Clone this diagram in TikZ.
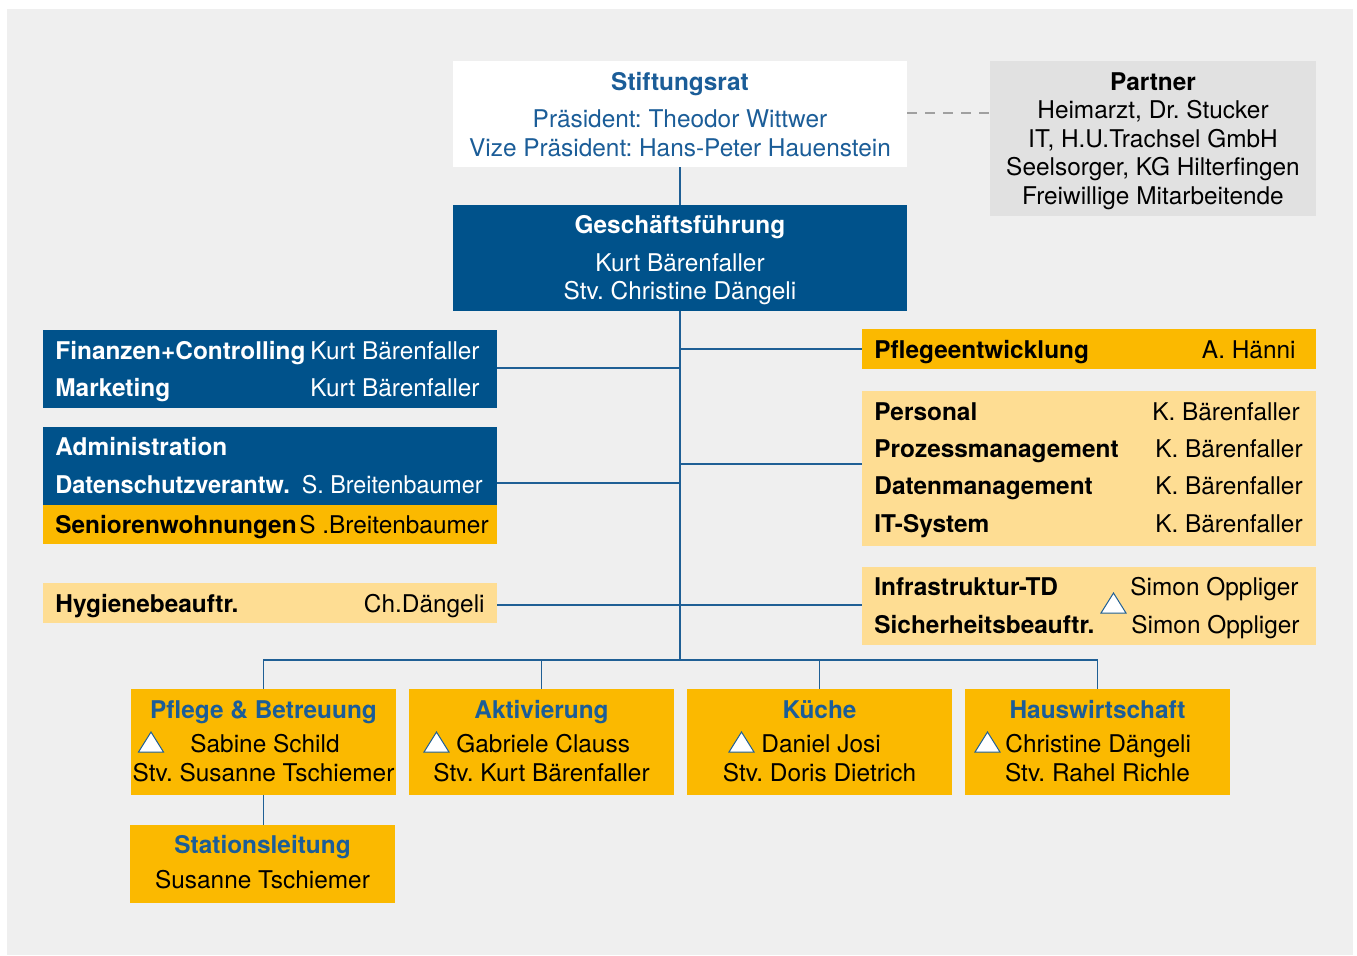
\documentclass[tikz,border=0pt]{standalone}
\usepackage{fontspec}
\setmainfont{TeX Gyre Heros}
\AtBeginDocument{\frenchspacing}
\definecolor{bgc}{HTML}{EFEFEF}
\definecolor{partnerc}{HTML}{E1E1E1}
\definecolor{darkblue}{HTML}{00528B}
\definecolor{textblue}{HTML}{1B5D98}
\definecolor{yel}{HTML}{FBB900}
\definecolor{lightyel}{HTML}{FEDD93}
\definecolor{linec}{HTML}{1F5F95}
\definecolor{dashc}{HTML}{A0A0A0}
\begin{document}
\begin{tikzpicture}[x=0.5pt,y=-0.5pt,
  box/.style={inner sep=0pt, outer sep=0pt, anchor=north west, draw=none},
  tw/.style={inner sep=0pt, anchor=base west, font=\fontsize{12.2}{14.5}\selectfont\frenchspacing},
  te/.style={inner sep=0pt, anchor=base east, font=\fontsize{12.2}{14.5}\selectfont\frenchspacing},
  tc/.style={inner sep=0pt, anchor=base, font=\fontsize{12.2}{14.5}\selectfont\frenchspacing},
  bf/.append style={font=\fontsize{12.2}{14.5}\selectfont\bfseries\frenchspacing},
  conn/.style={draw=linec, line width=0.65pt},
  dashconn/.style={draw=dashc, line width=0.9pt, dash pattern=on 5pt off 4pt},
  warn/.pic={\draw[draw=linec, fill=white, line width=0.5pt, line join=miter] (-12.5,10) -- (12.5,10) -- (0,-10) -- cycle;}
]
\useasboundingbox (0,0) rectangle (1357,955);
\fill[bgc] (7,9) rectangle (1353,955);

% boxes
\node[box, fill=white, minimum width=227pt, minimum height=53pt] (stift) at (453,61) {};
\node[box, fill=partnerc, minimum width=163pt, minimum height=77.5pt] (partner) at (990,61) {};
\node[box, fill=darkblue, minimum width=227pt, minimum height=53pt] (gf) at (453,205) {};
\node[box, fill=darkblue, minimum width=227pt, minimum height=39pt] (fin) at (43,330) {};
\node[box, fill=darkblue, minimum width=227pt, minimum height=39pt] (admin) at (43,427) {};
\node[box, fill=yel, minimum width=227pt, minimum height=19.5pt] (senior) at (43,505) {};
\node[box, fill=lightyel, minimum width=227pt, minimum height=20pt] (hyg) at (43,583) {};
\node[box, fill=yel, minimum width=227pt, minimum height=20pt] (pent) at (862,329) {};
\node[box, fill=lightyel, minimum width=227pt, minimum height=77.5pt] (pers) at (862,391) {};
\node[box, fill=lightyel, minimum width=227pt, minimum height=39pt] (infra) at (862,567) {};
\node[box, fill=yel, minimum width=132.5pt, minimum height=53pt] (pb) at (131,689) {};
\node[box, fill=yel, minimum width=132.5pt, minimum height=53pt] (akt) at (409,689) {};
\node[box, fill=yel, minimum width=132.5pt, minimum height=53pt] (kue) at (687,689) {};
\node[box, fill=yel, minimum width=132.5pt, minimum height=53pt] (hw) at (965,689) {};
\node[box, fill=yel, minimum width=132.5pt, minimum height=39pt] (stat) at (130,825) {};

% connectors
\coordinate (tb) at (680,660);
\coordinate (j1) at (680,368);
\coordinate (j2) at (680,349);
\coordinate (j3) at (680,464);
\coordinate (j4) at (680,483);
\draw[conn] (stift.south) -- (gf.north);
\draw[conn] (gf.south) -- (tb);
\draw[conn] (j1) -- (fin.east |- j1);
\draw[conn] (j2) -- (pent.west |- j2);
\draw[conn] (j3) -- (pers.west |- j3);
\draw[conn] (j4) -- (admin.east |- j4);
\draw[conn] (hyg.east |- 0,605) -- (infra.west |- 0,605);
\draw[conn] (pb.north) |- (tb) -| (hw.north);
\draw[conn] (akt.north) -- (akt.north |- tb);
\draw[conn] (kue.north) -- (kue.north |- tb);
\draw[conn] (pb.south) -- (pb.south |- stat.north);
\draw[dashconn] (stift.east |- 0,113) -- (partner.west |- 0,113);

% Stiftungsrat
\node[tc, bf, text=textblue] (s1) at (680,90) {Stiftungsrat};
\node[tc, text=textblue] (s2) at (680,127) {Präsident: Theodor Wittwer};
\node[tc, text=textblue] (s3) at (680,156) {Vize Präsident: Hans-Peter Hauenstein};

% Partner
\node[tc, bf] (p1) at (1153,90) {Partner};
\node[tc] (p2) at (1153,118) {Heimarzt, Dr. Stucker};
\node[tc] (p3) at (1153,147) {IT, H.U.Trachsel GmbH};
\node[tc] (p4) at (1153,175) {Seelsorger, KG Hilterfingen};
\node[tc] (p5) at (1153,204) {Freiwillige Mitarbeitende};

% Geschaeftsfuehrung
\node[tc, bf, text=white] (g1) at (680,233) {Geschäftsführung};
\node[tc, text=white] (g2) at (680,271) {Kurt Bärenfaller};
\node[tc, text=white] (g3) at (680,299) {Stv. Christine Dängeli};

% left column
\node[tw, bf, text=white] (f1) at (55,359) {Finanzen+Controlling};
\node[te, text=white] (f2) at (480,359) {Kurt Bärenfaller};
\node[tw, bf, text=white] (f3) at (55,396) {Marketing};
\node[te, text=white] (f4) at (480,396) {Kurt Bärenfaller};
\node[tw, bf, text=white] (a1) at (55,455) {Administration};
\node[tw, bf, text=white] (a2) at (55,493) {\scalebox{0.965}[1]{Datenschutzverantw.}};
\node[te, text=white] (a3) at (483,493) {\scalebox{0.955}[1]{S. Breitenbaumer}};
\node[tw, bf] (a4) at (55,533) {Seniorenwohnungen};
\node[te] (a5) at (489,533) {S .Breitenbaumer};
\node[tw, bf] (h1) at (55,612) {Hygienebeauftr.};
\node[te] (h2) at (485,612) {Ch.Dängeli};

% right column
\node[tw, bf] (r1) at (874,358) {Pflegeentwicklung};
\node[te] (r2) at (1296,358) {A. Hänni};
\node[tw, bf] (r3) at (874,420) {Personal};
\node[te] (r4) at (1300,420) {K. Bärenfaller};
\node[tw, bf] (r5) at (874,457) {Prozessmanagement};
\node[te] (r6) at (1303,457) {K. Bärenfaller};
\node[tw, bf] (r7) at (874,494) {Datenmanagement};
\node[te] (r8) at (1303,494) {K. Bärenfaller};
\node[tw, bf] (r9) at (874,532) {IT-System};
\node[te] (r10) at (1303,532) {K. Bärenfaller};
\node[tw, bf] (i1) at (874,595) {Infrastruktur-TD};
\node[te] (i2) at (1299,595) {Simon Oppliger};
\node[tw, bf] (i3) at (874,633) {Sicherheitsbeauftr.};
\node[te] (i4) at (1300,633) {Simon Oppliger};
\pic at (1113.5,603) {warn};

% bottom row
\node[tc, bf, text=textblue] (b1) at (263.5,718) {Pflege \& Betreuung};
\pic at (151,742) {warn};
\node[tw] (b2) at (190,752) {Sabine Schild};
\node[tc] (b3) at (263.5,781) {Stv. Susanne Tschiemer};

\node[tc, bf, text=textblue] (c1) at (541.5,718) {Aktivierung};
\pic at (436.5,742) {warn};
\node[tw] (c2) at (456,752) {Gabriele Clauss};
\node[tc] (c3) at (541.5,781) {Stv. Kurt Bärenfaller};

\node[tc, bf, text=textblue] (d1) at (819.5,718) {Küche};
\pic at (741.5,742) {warn};
\node[tw] (d2) at (761,752) {Daniel Josi};
\node[tc] (d3) at (819.5,781) {Stv. Doris Dietrich};

\node[tc, bf, text=textblue] (e1) at (1097.5,718) {Hauswirtschaft};
\pic at (987.5,742) {warn};
\node[tw] (e2) at (1005,752) {Christine Dängeli};
\node[tc] (e3) at (1097.5,781) {Stv. Rahel Richle};

\node[tc, bf, text=textblue] (k1) at (262.5,853) {Stationsleitung};
\node[tc] (k2) at (262.5,888) {Susanne Tschiemer};
\end{tikzpicture}
\end{document}
